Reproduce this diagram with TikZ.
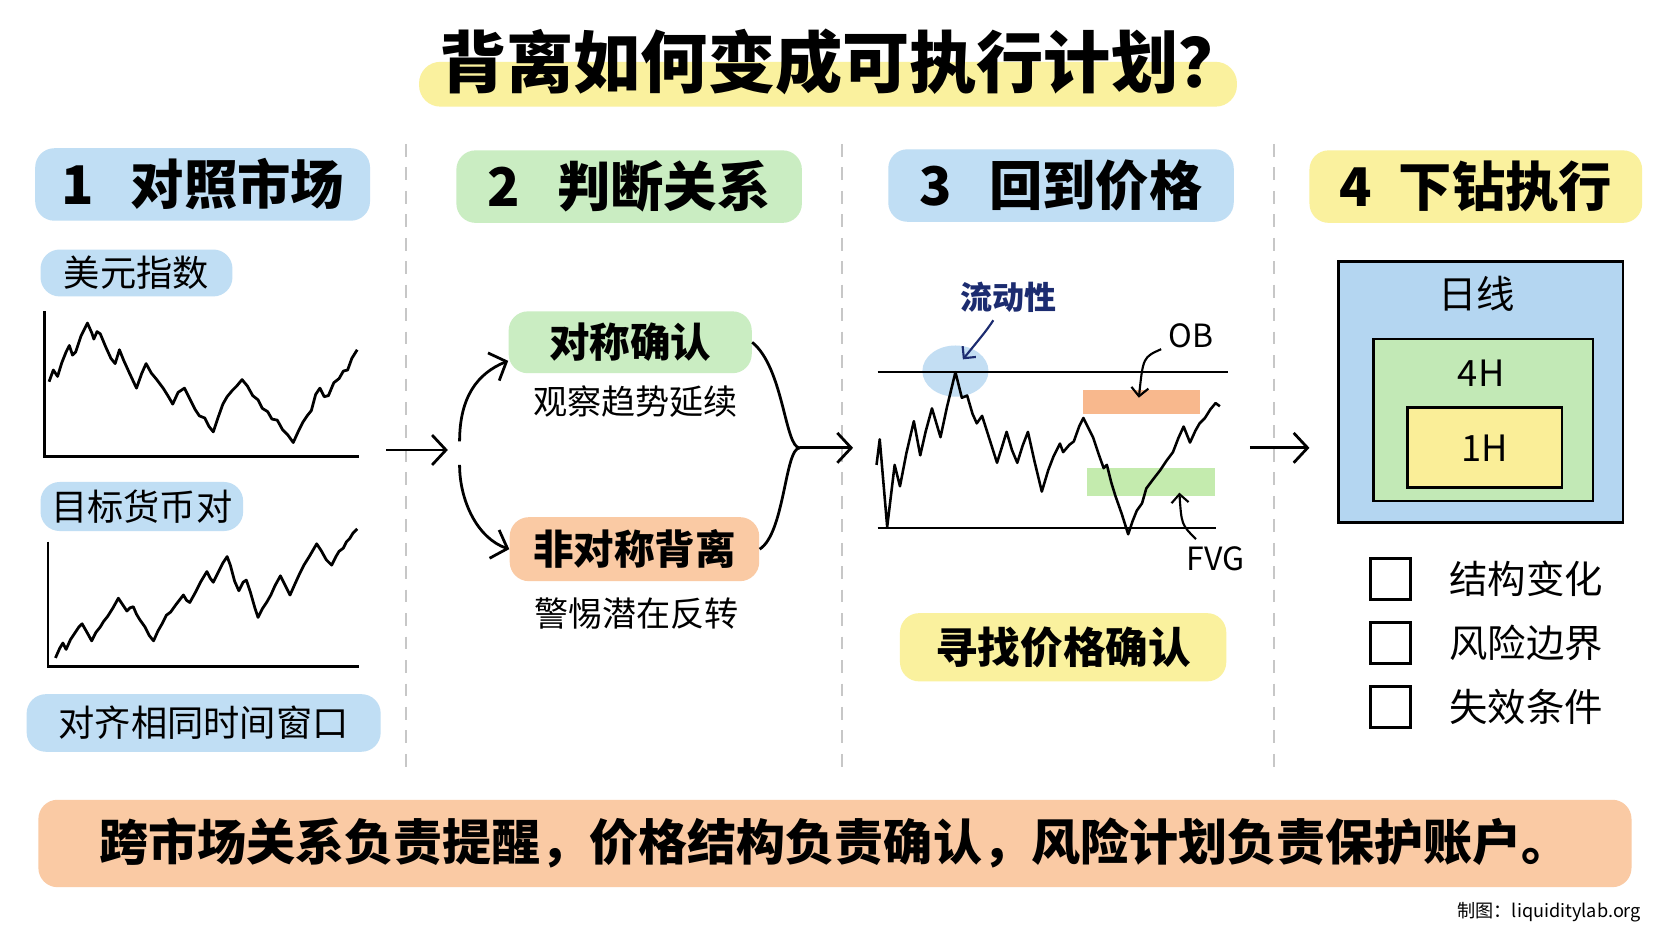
\documentclass[tikz,border=0pt]{standalone}
\usepackage{fontspec}
\setmainfont{Noto Sans CJK SC}
\usepackage{xcolor}
\usepackage{tikz}
\usetikzlibrary{arrows.meta}

\definecolor{hlblue}{RGB}{192,222,244}
\definecolor{hlgreen}{RGB}{202,237,194}
\definecolor{hlorange}{RGB}{250,202,164}
\definecolor{hlyellow}{RGB}{250,241,158}
\definecolor{navy}{RGB}{28,44,112}
\definecolor{obfill}{RGB}{247,172,122}
\definecolor{fvgfill}{RGB}{186,232,160}
\definecolor{boxblue}{RGB}{180,214,241}
\definecolor{boxgreen}{RGB}{194,233,182}
\definecolor{boxyellow}{RGB}{250,238,152}

\begin{document}
\begin{tikzpicture}[x=0.5pt, y=-0.5pt,
      hl/.style={rounded corners=9pt, inner sep=0pt},
      hdr/.style={hl, font=\fontsize{25pt}{30pt}\selectfont\bfseries, minimum height=34pt},
      tag/.style={hl, font=\fontsize{17pt}{20pt}\selectfont},
      pick/.style={hl, font=\fontsize{19pt}{23pt}\selectfont\bfseries},
      sub/.style={font=\fontsize{16pt}{19pt}\selectfont},
      chart/.style={line width=1.3pt, line join=round},
      axis/.style={line width=1.3pt},
      arr/.style={line width=1.3pt, -{Straight Barb[length=6.5pt,width=14pt]}},
      ann/.style={line width=1pt, -{Straight Barb[length=4pt,width=8pt]}},
      divider/.style={black!22, line width=0.9pt, dash pattern=on 6pt off 5pt},
      tfbox/.style={draw, line width=1.2pt, inner sep=0pt},
      chk/.style={draw, line width=1.3pt, minimum size=19pt, inner sep=0pt}]
    \fill[white] (0,0) rectangle (1568,882);
    \useasboundingbox (0,0) rectangle (1568,882);

    % title
    \fill[hlyellow, rounded corners=10pt] (393,58) rectangle (1160,100);
    \node[font=\fontsize{31.5pt}{38pt}\selectfont\bfseries] (title) at (790,58) {背离如何变成可执行计划？};

    % columns
    \draw[divider] (381,135) -- (381,720);
    \draw[divider] (790,135) -- (790,720);
    \draw[divider] (1195,135) -- (1195,720);

    \node[hdr, fill=hlblue, minimum width=157pt] (h1) at (190,173) {1\hspace{0.7em}对照市场};
    \node[hdr, fill=hlgreen, minimum width=162pt] (h2) at (590,175) {2\hspace{0.7em}判断关系};
    \node[hdr, fill=hlblue, minimum width=162pt] (h3) at (995,174) {3\hspace{0.7em}回到价格};
    \node[hdr, fill=hlyellow, minimum width=156pt] (h4) at (1384,175) {4\hspace{0.5em}下钻执行};

    % 1: two markets
    \node[tag, fill=hlblue, minimum width=90pt, minimum height=22pt] (usd) at (128,256) {美元指数};
    \draw[axis] (42,292) |- (337,428);
    \draw[chart] plot coordinates {(46,358) (50,347) (54,353) (58,340) (62,330) (65,324) (68,333) (71,330)
      (76,315) (82,303) (86,312) (88,318) (91,311) (94,313) (99,325) (104,336) (108,341) (112,328)
      (116,338) (121,349) (128,364) (133,350) (137,341) (142,350) (147,356) (153,364) (158,372)
      (162,379) (167,368) (173,364) (178,374) (183,384) (187,390) (192,392) (196,400) (200,405)
      (204,393) (209,379) (213,372) (218,366) (222,362) (227,356) (232,362) (237,371) (242,375)
      (246,383) (251,386) (255,393) (260,394) (265,403) (270,408) (275,415) (280,404) (284,396)
      (288,390) (292,385) (296,370) (300,364) (304,372) (308,371) (313,359) (318,355) (322,348)
      (326,347) (330,336) (335,328)};

    \node[tag, fill=hlblue, minimum width=95pt, minimum height=23pt] (pair) at (133,475) {目标货币对};
    \draw[axis] (45,508) |- (337,625);
    \draw[chart] plot coordinates {(52,617) (56,608) (59,603) (62,609) (66,600) (70,594) (74,588) (77,585)
      (81,592) (86,601) (90,593) (94,588) (97,583) (101,578) (106,570) (111,561) (115,567) (119,573)
      (122,570) (125,569) (128,576) (131,581) (136,588) (140,596) (144,601) (148,592) (152,585)
      (156,577) (160,574) (165,567) (172,558) (175,563) (178,565) (183,556) (188,546) (194,536)
      (197,542) (200,546) (205,536) (209,528) (213,522) (216,530) (220,545) (224,554) (228,546)
      (231,544) (235,556) (239,570) (242,579) (246,571) (250,565) (254,558) (258,549) (263,540)
      (267,548) (272,558) (276,549) (281,538) (285,530) (290,522) (297,510) (301,516) (306,525)
      (311,530) (315,522) (318,517) (322,514) (325,508) (328,505) (331,500) (335,496)};

    \node[tag, fill=hlblue, minimum width=166pt, minimum height=27pt] (align) at (191,678) {对齐相同时间窗口};

    \coordinate (c1a) at (362,422);
    \coordinate (c1b) at (420,422);
    \draw[arr] (c1a) -- (c1b);

    % 2: relation
    \node[pick, fill=hlgreen, minimum width=114pt, minimum height=29pt] (sym) at (591,321) {对称确认};
    \node[sub] (symsub) at (596,377) {观察趋势延续};
    \node[pick, fill=hlorange, minimum width=117pt, minimum height=30pt] (asym) at (595,515) {非对称背离};
    \node[sub] (asymsub) at (597,575) {警惕潜在反转};

    \coordinate (forkt) at (431,414);
    \coordinate (forkb) at (431,436);
    \draw[arr] (forkt) .. controls (431,372) and (448,350) .. ([yshift=6pt]sym.south west);
    \draw[arr] (forkb) .. controls (431,470) and (448,505) .. (asym.west);

    \coordinate (merge) at (750,420);
    \coordinate (c2b) at (800,420);
    \draw[line width=1.3pt] (sym.east) .. controls (735,345) and (736,420) .. (merge);
    \draw[line width=1.3pt] (asym.east) .. controls (736,500) and (736,420) .. (merge);
    \draw[arr] (merge) -- (c2b);

    % 3: price
    \fill[boxblue, opacity=0.8] (896,348) ellipse [x radius=31, y radius=24];
    \fill[obfill, opacity=0.85] (1016,366) rectangle (1125,388);
    \fill[fvgfill, opacity=0.85] (1019,439) rectangle (1139,465);
    \draw[line width=1pt] (823,349) -- (1152,349);
    \draw[line width=1pt] (823,495) -- (1140,495);
    \draw[chart, line width=1.2pt] plot coordinates {(822,436) (825,412) (832,494) (839,436) (844,456)
      (850,425) (857,395) (863,427) (868,405) (874,383) (882,410) (888,382) (896,349) (902,373)
      (907,371) (912,388) (916,397) (921,390) (928,412) (935,434) (940,418) (944,405) (949,422)
      (954,434) (959,418) (964,405) (970,432) (977,461) (983,441) (988,428) (994,416) (997,424)
      (1003,417) (1007,414) (1012,400) (1016,392) (1021,402) (1025,410) (1030,425) (1035,439)
      (1038,436) (1042,452) (1046,465) (1052,482) (1058,501) (1062,489) (1066,479) (1071,472)
      (1075,458) (1081,450) (1088,441) (1094,432) (1100,424) (1105,411) (1110,400) (1116,415)
      (1121,404) (1125,397) (1130,392) (1135,384) (1140,378) (1144,381)};

    \node[font=\fontsize{15pt}{18pt}\selectfont\bfseries, text=navy] (liq) at (946,279) {流动性};
    \coordinate (liqpt) at (903,337);
    \draw[ann, navy] (liq) .. controls (925,310) .. (liqpt);
    \node[font=\fontsize{15pt}{18pt}\selectfont] (ob) at (1117,315) {OB};
    \coordinate (obpt) at (1068,373);
    \draw[ann] (ob) .. controls (1072,335) .. (obpt);
    \node[font=\fontsize{15pt}{18pt}\selectfont] (fvg) at (1140,524) {FVG};
    \coordinate (fvgpt) at (1106,462);
    \draw[ann] (fvg) .. controls (1108,492) .. (fvgpt);

    \node[pick, fill=hlyellow, minimum width=153pt, minimum height=32pt, font=\fontsize{20pt}{24pt}\selectfont\bfseries] (find) at (997,607) {寻找价格确认};

    \coordinate (c3a) at (1172,420);
    \coordinate (c3b) at (1228,420);
    \draw[arr] (c3a) -- (c3b);

    % 4: drill down
    \node[tfbox, fill=boxblue, minimum width=133.5pt, minimum height=122.5pt] (daily) at (1388.5,367.5) {};
    \node[tfbox, fill=boxgreen, minimum width=103pt, minimum height=76pt] (h4box) at (1391,394) {};
    \node[tfbox, fill=boxyellow, minimum width=72.5pt, minimum height=37.5pt] (h1box) at (1392.5,419.5) {};
    \node[font=\fontsize{18pt}{22pt}\selectfont] (dl) at (1385,276) {日线};
    \node[font=\fontsize{17pt}{20pt}\selectfont] (l4h) at (1389,350) {4H};
    \node[font=\fontsize{17pt}{20pt}\selectfont] (l1h) at (1392,420) {1H};

    \node[chk] (k1) at (1304,543) {};
    \node[chk] (k2) at (1304,603) {};
    \node[chk] (k3) at (1304,663) {};
    \node[sub, font=\fontsize{18pt}{22pt}\selectfont, anchor=west] (t1) at (1352,543) {结构变化};
    \node[sub, font=\fontsize{18pt}{22pt}\selectfont, anchor=west] (t2) at (1352,603) {风险边界};
    \node[sub, font=\fontsize{18pt}{22pt}\selectfont, anchor=west] (t3) at (1352,663) {失效条件};

    % bottom line
    \node[hl, fill=hlorange, minimum width=747pt, minimum height=41pt, font=\fontsize{23pt}{28pt}\selectfont\bfseries] (moral) at (783,791) {跨市场关系负责提醒，价格结构负责确认，风险计划负责保护账户。};
    \node[anchor=east, font=\fontsize{8.5pt}{10pt}\selectfont] (credit) at (1546,855) {制图：liquiditylab.org};
  \end{tikzpicture}
\end{document}
